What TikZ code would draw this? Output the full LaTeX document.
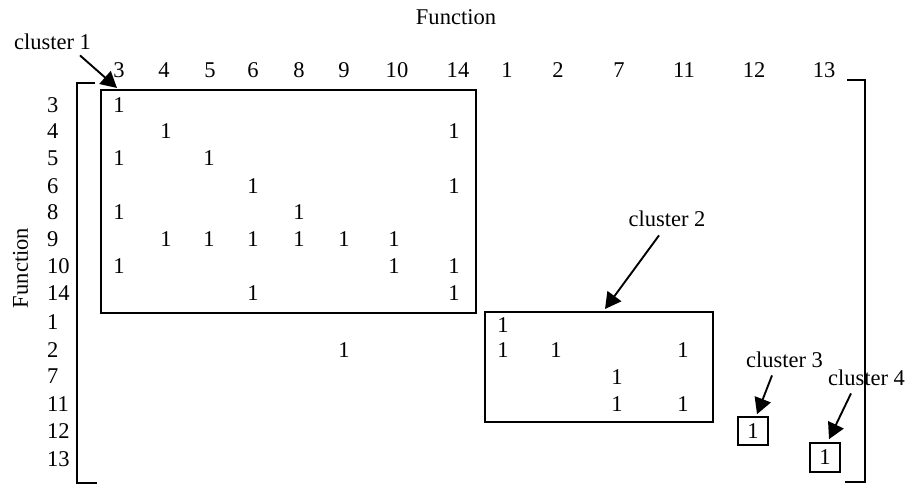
\documentclass[tikz,border=0pt]{standalone}
\usepackage{fontspec}
\setmainfont{Liberation Serif}
\usetikzlibrary{arrows.meta,calc}
\begin{document}
\begin{tikzpicture}[x=1bp,y=-1bp,
  every node/.style={font=\fontsize{22.6pt}{27pt}\selectfont, inner sep=0pt},
  hdr/.style={anchor=center},
  rowlab/.style={anchor=west},
  val/.style={anchor=center},
  clab/.style={anchor=base},
  bracket/.style={line width=2bp},
  cbox/.style={draw, line width=2bp},
  sbox/.style={draw, line width=1.6bp, minimum width=30bp, minimum height=28bp},
  arr/.style={line width=1.9bp, -{Triangle[length=16bp,width=17bp]}}
]
\useasboundingbox (0,0) rectangle (912,487);

% axis titles
\node[clab] (ftop) at (456,25) {Function};
\node[rotate=90] (fleft) at (20.5,268) {Function};

% column headers
\foreach \x/\t [count=\k] in {119/3,164/4,210/5,253/6,299/8,344/9,397/10,458/14,507/1,558/2,619/7,684/11,754/12,824/13}
  \node[hdr] (h\k) at (\x,70) {\t};

% row labels
\foreach \y/\t [count=\k] in {105/3,131/4,158/5,186/6,212/8,239/9,266/10,293/14,322/1,350/2,376/7,404/11,431/12,459/13}
  \node[rowlab] (r\k) at (47,\y) {\t};

% brackets
\draw[bracket] (95,83) -- (77,83) -- (77,483) -- (97,483);
\draw[bracket] (847,80) -- (865,80) -- (865,482) -- (845,482);

% cluster boxes
\node[cbox, minimum width=375bp, minimum height=223bp] (box1) at (288.5,201.5) {};
\node[cbox, minimum width=228bp, minimum height=110bp] (box2) at (599,367) {};
\node[sbox] (box3) at (753,431) {1};
\node[sbox, minimum height=29bp] (box4) at (825,457.5) {1};

% matrix entries
\foreach \x/\y [count=\k] in {119/105,
  166/131,454/131,
  119/158,209/158,
  253/186,454/186,
  119/212,299/212,
  166/239,209/239,253/239,299/239,344/239,394/239,
  119/266,394/266,454/266,
  253/293,454/293,
  503/325,
  344/350,503/350,556/350,683/350,
  617/377,
  617/404,683/404}
  \node[val] (v\k) at (\x,\y) {1};

% cluster labels
\node[clab] (c1) at (52.5,50) {cluster 1};
\node[clab] (c2) at (667,227) {cluster 2};
\node[clab] (c3) at (784.5,367) {cluster 3};
\node[clab] (c4) at (866.5,385) {cluster 4};

% arrows
\draw[arr] ([xshift=27.5bp,yshift=-5bp]c1.south) -- ([xshift=17bp,yshift=1bp]box1.north west);
\draw[arr] ([xshift=-8bp,yshift=-8bp]c2.south) -- ([xshift=121bp,yshift=2bp]box2.north west);
\draw[arr] ([xshift=-12.5bp,yshift=-8bp]c3.south) -- ([xshift=4bp,yshift=2bp]box3.north);
\draw[arr] ([xshift=-15.5bp,yshift=-8bp]c4.south) -- ([xshift=4bp,yshift=3bp]box4.north);
\end{tikzpicture}
\end{document}
